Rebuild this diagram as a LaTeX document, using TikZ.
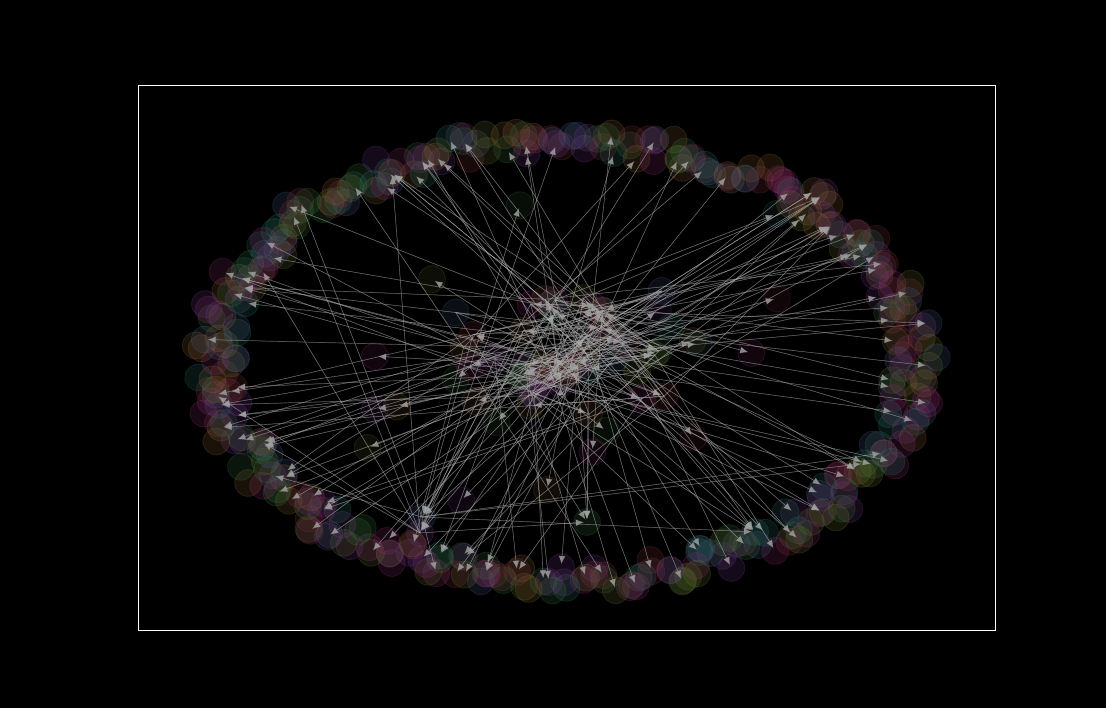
\documentclass[tikz,border=0pt]{standalone}
\usepackage{tikz}
\usetikzlibrary{arrows.meta,calc}

\definecolor{nc1}{RGB}{120,60,140}
\definecolor{nc2}{RGB}{60,120,65}
\definecolor{nc3}{RGB}{145,100,55}
\definecolor{nc4}{RGB}{75,95,140}
\definecolor{nc5}{RGB}{150,45,120}
\definecolor{nc6}{RGB}{45,120,110}
\definecolor{nc7}{RGB}{110,120,45}
\definecolor{nc8}{RGB}{135,55,65}

\begin{document}
\begin{tikzpicture}[x=0.025cm, y=-0.025cm, >={Latex[length=6pt,width=5pt]}]

	\tikzset{
		gnode/.style = {circle, minimum size=0.67cm, inner sep=0pt,
			line width=0.6pt, fill opacity=0.18, draw opacity=0.22},
		gedge/.style = {->, draw=gray!75!white, line width=0.5pt,
			draw opacity=0.42, fill=gray!25!white, fill opacity=0.85, shorten >=2pt}
	}

	\fill[black] (0,0) rectangle (1106,708);
	\useasboundingbox (0,0) rectangle (1106,708);
	\draw[white, line width=0.7pt] (138,85) rectangle (995,630);

	\pgfmathsetseed{4242}

	% outer ring
	\foreach \i in {1,...,360}{
		\pgfmathsetmacro\ang{\i*(360/360) + 1.5*rand}
		\pgfmathsetmacro\rr{1 + 0.065*rand}
		\pgfmathrandominteger{\k}{1}{8}
		\node[gnode, fill=nc\k, draw=nc\k] (r\i)
			at ({565+350*\rr*cos(\ang)},{360+220*\rr*sin(\ang)}) {};
	}

	% loose nodes inside
	\foreach \i in {1,...,22}{
		\pgfmathrandominteger{\k}{1}{8}
		\node[gnode, fill=nc\k, draw=nc\k, fill opacity=0.12] (s\i)
			at ({565+250*rand},{355+150*rand}) {};
	}

	% dense middle
	\foreach \j in {1,...,46}{
		\pgfmathrandominteger{\k}{1}{8}
		\node[gnode, fill=nc\k, draw=nc\k, fill opacity=0.15] (c\j)
			at ({560+125*(rand+rand)/2},{355+80*(rand+rand)/2}) {};
	}

	\node[gnode, fill=nc4, draw=nc4] (h1) at (422,517) {};
	\node[gnode, fill=nc1, draw=nc1] (h2) at (420,533) {};
	\node[gnode, fill=nc2, draw=nc2] (h3) at (587,522) {};
	\node[gnode, fill=nc3, draw=nc3] (h4) at (603,311) {};
	\node[gnode, fill=nc6, draw=nc6] (h5) at (755,532) {};

	% center -> ring
	\foreach \j in {1,...,46}{
		\foreach \m in {1,...,3}{
			\pgfmathrandominteger{\t}{1}{360}
			\draw[gedge] (c\j.center) -- (r\t.center);
		}
		\pgfmathrandominteger{\u}{1}{46}
		\draw[gedge] (c\j.center) -- (c\u.center);
	}

	% a few to the loose ones
	\foreach \j in {1,...,22}{
		\pgfmathrandominteger{\u}{1}{46}
		\draw[gedge] (c\u.center) -- (s\j.center);
	}

	% hubs
	\foreach \h in {h1,h2,h4}{
		\foreach \m in {1,...,6}{
			\pgfmathrandominteger{\t}{1}{360}
			\draw[gedge] (\h.center) -- (r\t.center);
		}
		\foreach \m in {1,...,4}{
			\pgfmathrandominteger{\u}{1}{46}
			\draw[gedge] (c\u.center) -- (\h.center);
		}
	}
	\foreach \h in {h3,h5}{
		\foreach \m in {1,...,4}{
			\pgfmathrandominteger{\u}{1}{46}
			\draw[gedge] (c\u.center) -- (\h.center);
		}
	}
	\draw[gedge] (h1.center) -- (h5.center);
	\draw[gedge] (h2.center) -- (h3.center);

\end{tikzpicture}
\end{document}
